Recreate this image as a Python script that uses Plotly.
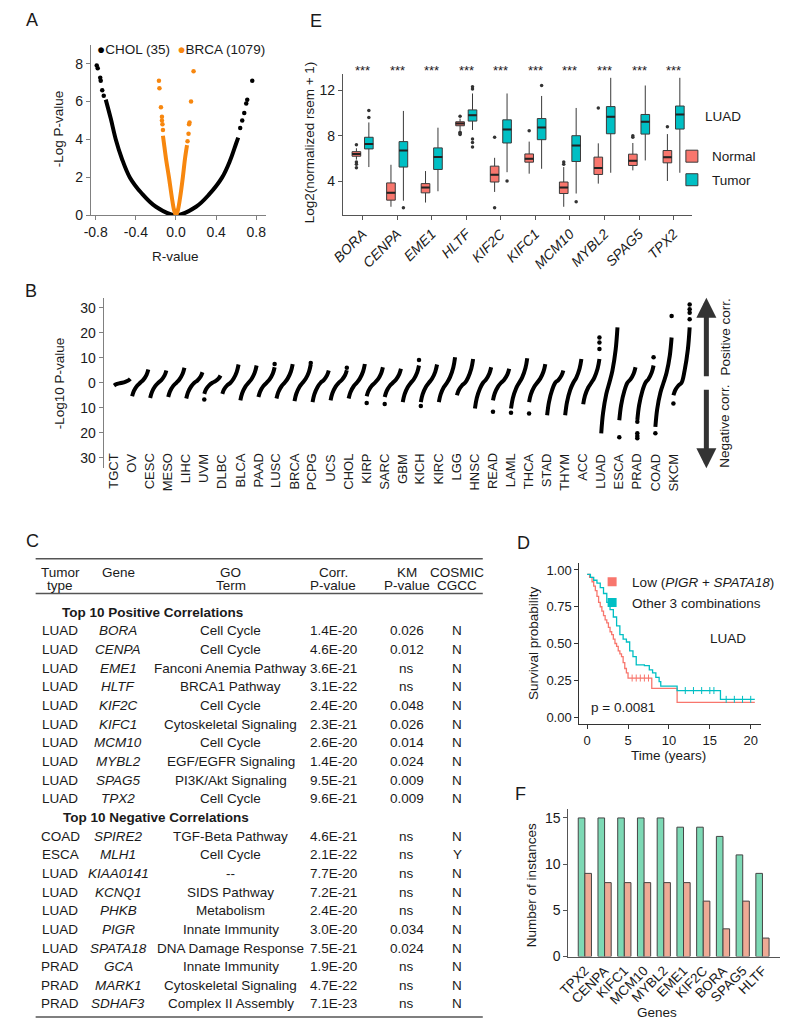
import plotly.graph_objects as go

W, H = 795, 1035
FONT = "Arial, Liberation Sans, sans-serif"
INK = "#1a1a1a"
RED = "#F8766D"
CYAN = "#00BFC4"
ORANGE = "#F7870F"


def dx(p):
    return p / W


def dy(p):
    return 1 - p / H


# ---------------- panel A data ----------------
chol_r = [-0.70, -0.65, -0.60, -0.54, -0.46, -0.34, -0.20, 0.0, 0.20, 0.33, 0.46, 0.54, 0.60, 0.62]
chol_p = [6.1, 5.1, 4.0, 3.0, 2.0, 1.15, 0.45, 0.0, 0.45, 1.1, 2.0, 2.9, 3.8, 4.1]
chol_dot_r = [-0.72, -0.735, -0.75, -0.755, -0.78, -0.79, 0.64, 0.66, 0.68, 0.70, 0.71, 0.76]
chol_dot_p = [6.3, 6.6, 7.1, 7.25, 7.75, 7.9, 4.6, 5.0, 5.4, 5.9, 6.1, 7.1]
brca_r = [-0.13, -0.12, -0.10, -0.07, -0.04, -0.02, 0.0, 0.02, 0.04, 0.068, 0.09, 0.11]
brca_p = [4.2, 3.8, 3.0, 2.0, 0.9, 0.3, 0.0, 0.3, 0.9, 2.0, 3.0, 3.7]
brca_dot_r = [-0.13, -0.135, -0.14, -0.14, -0.15, -0.165, -0.17, 0.115, 0.125, 0.13, 0.135, 0.15, 0.175]
brca_dot_p = [4.5, 4.8, 5.0, 5.2, 5.7, 6.7, 7.1, 3.9, 4.3, 4.8, 4.9, 6.0, 7.6]

# ---------------- panel E data ----------------
e_genes = ["BORA", "CENPA", "EME1", "HLTF", "KIF2C", "KIFC1", "MCM10", "MYBL2", "SPAG5", "TPX2"]
n_q1 = [6.2, 2.35, 2.99, 8.87, 3.94, 5.68, 2.93, 4.6, 5.39, 5.62]
n_med = [6.4, 2.99, 3.45, 9.07, 4.58, 5.97, 3.45, 5.16, 5.8, 6.12]
n_q3 = [6.6, 3.86, 3.8, 9.22, 5.33, 6.4, 3.94, 6.12, 6.38, 6.7]
n_lo = [5.9, 1.77, 2.14, 8.45, 3.07, 4.67, 1.77, 3.8, 4.96, 4.03]
n_hi = [6.9, 5.45, 4.9, 9.5, 6.06, 7.48, 5.25, 7.33, 7.36, 8.14]
n_out = [[7.2, 5.7, 5.5, 5.2], [], [], [9.7, 8.3, 8.2, 8.1], [7.86, 1.68], [8.43], [5.7, 5.5], [10.43], [8.0, 7.86], [8.78]]
t_q1 = [6.84, 5.25, 5.04, 9.28, 7.36, 7.65, 5.74, 8.17, 8.14, 8.58]
t_med = [7.27, 6.7, 6.14, 9.8, 8.55, 8.72, 7.13, 9.65, 9.22, 9.86]
t_q3 = [7.86, 7.48, 6.93, 10.26, 9.39, 9.5, 8.0, 10.55, 9.86, 10.6]
t_lo = [5.25, 2.3, 3.13, 8.5, 4.8, 5.1, 2.93, 4.75, 5.83, 4.75]
t_hi = [9.16, 10.17, 8.7, 11.7, 11.7, 11.48, 10.43, 13.07, 12.4, 13.07]
t_out = [[10.2, 9.6], [1.68], [], [12.3, 12.1, 7.7, 7.4, 7.0], [4.03], [12.4], [2.2], [], [], []]

# ---------------- panel B data ----------------
b_types = ["TGCT", "OV", "CESC", "MESO", "LIHC", "UVM", "DLBC", "BLCA", "PAAD", "LUSC", "BRCA",
           "PCPG", "UCS", "CHOL", "KIRP", "SARC", "GBM", "KICH", "KIRC", "LGG", "HNSC", "READ",
           "LAML", "THCA", "STAD", "THYM", "ACC", "LUAD", "ESCA", "PRAD", "COAD", "SKCM"]
b_low = [-1.1, -5.4, -6.1, -5.7, -6.3, -4.4, -4.4, -7.0, -5.7, -6.3, -7.3, -7.7, -7.0, -6.3, -5.4, -5.7,
         -7.7, -7.7, -7.7, -5.0, -10.3, -7.0, -10.3, -7.7, -13.0, -13.0, -8.6, -20.2, -15.0, -14.9, -17.6, -5.0]
b_high = [1.6, 5.3, 4.9, 6.0, 4.2, 2.9, 7.3, 6.9, 6.2, 7.5, 7.3, 4.9, 5.0, 7.5, 6.2, 5.6,
          6.9, 7.3, 10.2, 9.5, 6.2, 5.6, 9.8, 7.5, 4.9, 9.5, 9.5, 22.1, 6.2, 6.9, 18.1, 22.1]
b_dot_type = ["UVM", "PAAD", "BRCA", "UCS", "KIRP", "SARC", "GBM", "KICH", "READ", "LAML", "THCA",
              "ACC", "ACC", "ACC", "ESCA", "PRAD", "PRAD", "PRAD", "PRAD", "PRAD", "COAD", "COAD",
              "SKCM", "SKCM", "SKCM", "SKCM", "SKCM"]
b_dot_val = [-6.7, 7.5, 7.9, 6.0, -8.1, -8.5, 9.1, -9.3, -11.6, -12.0, -12.3,
             13.5, 16.1, 18.1, -21.8, -20.2, -21.3, -22.2, -15.6, 10.2, -20.2, 26.7,
             -8.3, 25.4, 28.0, 29.4, 31.3]

# ---------------- panel C data ----------------
pos_type = ["LUAD"] * 10
pos_gene = ["BORA", "CENPA", "EME1", "HLTF", "KIF2C", "KIFC1", "MCM10", "MYBL2", "SPAG5", "TPX2"]
pos_go = ["Cell Cycle", "Cell Cycle", "Fanconi Anemia Pathway", "BRCA1 Pathway", "Cell Cycle",
          "Cytoskeletal Signaling", "Cell Cycle", "EGF/EGFR Signaling", "PI3K/Akt Signaling", "Cell Cycle"]
pos_corr = ["1.4E-20", "4.6E-20", "3.6E-21", "3.1E-22", "2.4E-20", "2.3E-21", "2.6E-20", "1.4E-20", "9.5E-21", "9.6E-21"]
pos_km = ["0.026", "0.012", "ns", "ns", "0.048", "0.026", "0.014", "0.024", "0.009", "0.009"]
pos_cosmic = ["N"] * 10
neg_type = ["COAD", "ESCA", "LUAD", "LUAD", "LUAD", "LUAD", "LUAD", "PRAD", "PRAD", "PRAD"]
neg_gene = ["SPIRE2", "MLH1", "KIAA0141", "KCNQ1", "PHKB", "PIGR", "SPATA18", "GCA", "MARK1", "SDHAF3"]
neg_go = ["TGF-Beta Pathway", "Cell Cycle", "--", "SIDS Pathway", "Metabolism", "Innate Immunity",
          "DNA Damage Response", "Innate Immunity", "Cytoskeletal Signaling", "Complex II Assembly"]
neg_corr = ["4.6E-21", "2.1E-22", "7.7E-20", "7.2E-21", "2.4E-20", "3.0E-20", "7.5E-21", "1.9E-20", "4.7E-22", "7.1E-23"]
neg_km = ["ns", "ns", "ns", "ns", "ns", "0.034", "0.024", "ns", "ns", "ns"]
neg_cosmic = ["N", "Y", "N", "N", "N", "N", "N", "N", "N", "N"]

# ---------------- panel D data ----------------
low_t = [0, 0.3, 0.6, 0.8, 1.0, 1.2, 1.4, 1.6, 1.8, 2.0, 2.2, 2.4, 2.6, 2.8, 3.0, 3.2, 3.4, 3.6,
         3.8, 4.0, 4.2, 4.4, 4.6, 4.8, 5.0, 7.9, 11.0, 20.5]
low_s = [0.97, 0.95, 0.92, 0.89, 0.86, 0.82, 0.78, 0.75, 0.72, 0.69, 0.66, 0.64, 0.61, 0.58, 0.56,
         0.53, 0.50, 0.48, 0.45, 0.43, 0.41, 0.37, 0.33, 0.30, 0.265, 0.195, 0.10, 0.10]
oth_t = [0, 0.4, 0.8, 1.2, 1.6, 2.0, 2.4, 2.8, 3.2, 3.6, 4.0, 4.4, 4.8, 5.2, 5.6, 6.0, 7.0, 7.6,
         8.0, 8.4, 8.8, 9.0, 11.0, 16.3, 20.5]
oth_s = [0.97, 0.95, 0.93, 0.91, 0.88, 0.84, 0.78, 0.73, 0.68, 0.62, 0.56, 0.53, 0.51, 0.45, 0.41,
         0.355, 0.35, 0.32, 0.30, 0.27, 0.24, 0.21, 0.18, 0.12, 0.12]
low_cens_t = [5.5, 6.0, 6.5, 7.0, 7.5]
low_cens_s = [0.265, 0.265, 0.265, 0.265, 0.265]
oth_cens_t = [12.0, 13.0, 14.0, 15.0, 15.5, 17.0, 18.0, 19.0, 20.0]
oth_cens_s = [0.18, 0.18, 0.18, 0.18, 0.18, 0.12, 0.12, 0.12, 0.12]

# ---------------- panel F data ----------------
f_genes = ["TPX2", "CENPA", "KIFC1", "MCM10", "MYBL2", "EME1", "KIF2C", "BORA", "SPAG5", "HLTF"]
f_green = [15, 15, 15, 15, 15, 14, 14, 13, 11, 9]
f_pink = [9, 8, 8, 8, 8, 8, 6, 3, 6, 2]

fig = go.Figure()

# A
fig.add_trace(go.Scatter(x=chol_r, y=chol_p, mode="lines", line=dict(color="black", width=4, shape="spline"),
                         xaxis="x", yaxis="y", showlegend=False, cliponaxis=False))
fig.add_trace(go.Scatter(x=chol_dot_r, y=chol_dot_p, mode="markers", marker=dict(color="black", size=4.5),
                         xaxis="x", yaxis="y", showlegend=False))
fig.add_trace(go.Scatter(x=brca_r, y=brca_p, mode="lines", line=dict(color=ORANGE, width=4, shape="spline"),
                         xaxis="x", yaxis="y", showlegend=False, cliponaxis=False))
fig.add_trace(go.Scatter(x=brca_dot_r, y=brca_dot_p, mode="markers", marker=dict(color=ORANGE, size=4.5),
                         xaxis="x", yaxis="y", showlegend=False))

# E
BOX_W = 0.25
for name, off, col, q1, med, q3, lo, hi, outs in [
        ("Normal", -0.18, RED, n_q1, n_med, n_q3, n_lo, n_hi, n_out),
        ("Tumor", 0.18, CYAN, t_q1, t_med, t_q3, t_lo, t_hi, t_out)]:
    pos = [i + off for i in range(len(e_genes))]
    fig.add_trace(go.Box(x=pos, q1=q1, median=med, q3=q3,
                         lowerfence=lo, upperfence=hi, width=BOX_W, fillcolor=col,
                         line=dict(color="#3a3a3a", width=1), whiskerwidth=0, boxpoints=False,
                         name=name, xaxis="x2", yaxis="y2", legend="legend2", legendgroup=name))
    # heavier median bar, as in ggplot
    mx, my = [], []
    for p, m in zip(pos, med):
        mx += [p - BOX_W / 2, p + BOX_W / 2, None]
        my += [m, m, None]
    fig.add_trace(go.Scatter(x=mx, y=my, mode="lines", line=dict(color="#222", width=2),
                             xaxis="x2", yaxis="y2", showlegend=False))
    ox, oy = [], []
    for i, vals in enumerate(outs):
        for v in vals:
            ox.append(i + off)
            oy.append(v)
    fig.add_trace(go.Scatter(x=ox, y=oy, mode="markers", marker=dict(color="#333", size=3.5),
                             xaxis="x2", yaxis="y2", showlegend=False))

# B: each tumour type is a sorted run of genes, drawn as one S-shaped stroke
bx, by = [], []
frac_x = [0.02, 0.12, 0.3, 0.47, 0.64, 0.82, 0.92]
frac_y = [1.0, 0.6, 0.22, 0.0, 0.22, 0.6, 1.0]
for i, (lo, hi) in enumerate(zip(b_low, b_high)):
    for k, (fx, fy) in enumerate(zip(frac_x, frac_y)):
        bx.append(i + fx)
        by.append(fy * (lo if k < 3 else hi))
    bx.append(None)
    by.append(None)
fig.add_trace(go.Scatter(x=bx, y=by, mode="lines", line=dict(color="black", width=4, shape="spline"),
                         xaxis="x3", yaxis="y3", showlegend=False))
fig.add_trace(go.Scatter(x=[b_types.index(t) + (0.02 if v < 0 else 0.92) for t, v in zip(b_dot_type, b_dot_val)],
                         y=b_dot_val, mode="markers", marker=dict(color="black", size=4.5),
                         xaxis="x3", yaxis="y3", showlegend=False))

# D
fig.add_trace(go.Scatter(x=low_t, y=low_s, mode="lines", line=dict(color=RED, width=1.3, shape="hv"),
                         xaxis="x4", yaxis="y4", showlegend=False))
fig.add_trace(go.Scatter(x=oth_t, y=oth_s, mode="lines", line=dict(color=CYAN, width=1.3, shape="hv"),
                         xaxis="x4", yaxis="y4", showlegend=False))
fig.add_trace(go.Scatter(x=low_cens_t, y=low_cens_s, mode="markers",
                         marker=dict(symbol="line-ns-open", size=5, color=RED, line=dict(width=1, color=RED)),
                         xaxis="x4", yaxis="y4", showlegend=False))
fig.add_trace(go.Scatter(x=oth_cens_t, y=oth_cens_s, mode="markers",
                         marker=dict(symbol="line-ns-open", size=5, color=CYAN, line=dict(width=1, color=CYAN)),
                         xaxis="x4", yaxis="y4", showlegend=False))
fig.add_trace(go.Scatter(x=[None], y=[None], mode="markers", marker=dict(symbol="square", size=9, color=RED),
                         name="Low (<i>PIGR</i> + <i>SPATA18</i>)", xaxis="x4", yaxis="y4", legend="legend3",
                         legendgroup="low"))
fig.add_trace(go.Scatter(x=[None], y=[None], mode="markers", marker=dict(symbol="square", size=9, color=CYAN),
                         name="Other 3 combinations", xaxis="x4", yaxis="y4", legend="legend3",
                         legendgroup="oth"))

# F
fig.add_trace(go.Bar(x=list(range(len(f_genes))), y=f_green, marker=dict(color="#7DD9B5", line=dict(color="#444", width=1)),
                     xaxis="x5", yaxis="y5", showlegend=False))
fig.add_trace(go.Bar(x=list(range(len(f_genes))), y=f_pink, marker=dict(color="#EEAA95", line=dict(color="#444", width=1)),
                     xaxis="x5", yaxis="y5", showlegend=False))

ax_common = dict(showgrid=False, zeroline=False, showline=True, ticks="outside", ticklen=4,
                 tickfont=dict(size=14, color=INK))
ax_small = dict(ax_common, tickfont=dict(size=13, color=INK))

fig.update_layout(
    width=W, height=H, margin=dict(l=0, r=0, t=0, b=0),
    paper_bgcolor="white", plot_bgcolor="white",
    font=dict(family=FONT, size=13.5, color=INK),
    barmode="group", bargap=0.33, bargroupgap=0,
    xaxis=dict(domain=[dx(80), dx(258)], range=[-0.849, 0.898], anchor="y",
               tickvals=[-0.8, -0.4, 0, 0.4, 0.8], ticktext=["-0.8", "-0.4", "0.0", "0.4", "0.8"],
               linecolor="#808080", tickcolor="#808080", **ax_common),
    yaxis=dict(domain=[dy(217), dy(45)], range=[0, 9], anchor="x", tickvals=[0, 2, 4, 6, 8],
               linecolor="#808080", tickcolor="#808080", **ax_common),
    xaxis2=dict(domain=[dx(336), dx(690)], range=[-0.57, 9.52], anchor="y2",
                tickvals=list(range(len(e_genes))), ticktext=["<i>%s</i>" % g for g in e_genes],
                tickangle=-45, linecolor="#555", tickcolor="#555", **ax_common),
    yaxis2=dict(domain=[dy(217), dy(75)], range=[1.02, 13.37], anchor="x2", tickvals=[4, 8, 12],
                linecolor="#555", tickcolor="#555", **ax_common),
    xaxis3=dict(domain=[dx(93), dx(695)], range=[-0.56, 32.3], anchor="y3", visible=False),
    yaxis3=dict(domain=[dy(472), dy(300)], range=[-34.2, 34], anchor="x3",
                tickvals=[30, 20, 10, 0, -10, -20, -30], ticktext=["30", "20", "10", "0", "10", "20", "30"],
                linecolor="#808080", tickcolor="#808080", **ax_common),
    xaxis4=dict(domain=[dx(576), dx(760)], range=[-0.96, 21.2], anchor="y4", tickvals=[0, 5, 10, 15, 20],
                linecolor="#333", tickcolor="#333", **ax_small),
    yaxis4=dict(domain=[dy(730), dy(567)], range=[-0.05, 1.05], anchor="x4",
                tickvals=[0, 0.25, 0.5, 0.75, 1.0], tickformat=".2f",
                linecolor="#333", tickcolor="#333", **ax_small),
    xaxis5=dict(domain=[dx(565), dx(780)], range=[-0.83, 9.9], anchor="y5",
                tickvals=list(range(len(f_genes))), ticktext=f_genes, tickangle=-45,
                showgrid=False, zeroline=False, showline=True, linecolor="#555", ticks="",
                tickfont=dict(size=13.5, color=INK)),
    yaxis5=dict(domain=[dy(964), dy(815)], range=[0, 16], anchor="x5", tickvals=[0, 5, 10, 15],
                linecolor="#555", tickcolor="#555", **ax_common),
    legend2=dict(x=dx(670), y=dy(142), xanchor="left", yanchor="top", bgcolor="rgba(0,0,0,0)",
                 font=dict(size=13.5), traceorder="grouped", tracegroupgap=3),
    legend3=dict(x=dx(589), y=dy(571), xanchor="left", yanchor="top", bgcolor="rgba(0,0,0,0)",
                 font=dict(size=13.5), traceorder="grouped", tracegroupgap=0),
)

ann = []


def text(t, x, y, size=13.5, xanchor="center", yanchor="middle", angle=0, bold=False):
    ann.append(dict(text=("<b>%s</b>" % t) if bold else t, x=dx(x), y=dy(y), xref="paper", yref="paper",
                    showarrow=False, font=dict(size=size, color=INK), xanchor=xanchor, yanchor=yanchor,
                    textangle=angle))


# panel letters
for letter, x, y in [("A", 20, 20), ("E", 309, 21), ("B", 19, 293), ("C", 21, 545), ("D", 519, 547), ("F", 516, 800)]:
    text(letter, x, y, size=18)

# axis titles
text("R-value", 166, 258)
text("-Log P-value", 48, 130, angle=-90)
text("Log2(normalized rsem + 1)", 302, 143, angle=-90)
text("-Log10 P-value", 48, 386, angle=-90)
text("Survival probability", 530, 648, angle=-90)
text("Time (years)", 667, 761)
text("Number of instances", 527, 892, angle=-90)
text("Genes", 655, 1020)

# A legend
text("<span style='color:black'>●</span>CHOL (35)  <span style='color:%s'>●</span>BRCA (1079)" % ORANGE,
     84, 50, xanchor="left")

# E annotations
for i in range(len(e_genes)):
    ann.append(dict(text="***", x=i, y=dy(71), xref="x2", yref="paper", showarrow=False,
                    font=dict(size=13, color=INK), yanchor="middle"))
text("LUAD", 722, 117)

# B tumor labels
for i, t in enumerate(b_types):
    ann.append(dict(text=t, x=i, y=dy(455), xref="x3", yref="paper", showarrow=False, textangle=-90,
                    xanchor="center", yanchor="top", font=dict(size=13, color=INK)))
text("Positive corr.", 724, 340, angle=-90)
text("Negative corr.", 724, 430, angle=-90)
ann.append(dict(x=dx(705), y=dy(300), xref="paper", yref="paper", ax=0, ay=80, showarrow=True,
                arrowhead=2, arrowsize=0.8, arrowwidth=5, arrowcolor="#333", text=""))
ann.append(dict(x=dx(705), y=dy(472), xref="paper", yref="paper", ax=0, ay=-80, showarrow=True,
                arrowhead=2, arrowsize=0.8, arrowwidth=5, arrowcolor="#333", text=""))

# D annotations
text("LUAD", 727, 643)
text("p = 0.0081", 586, 713, xanchor="left")

# C table
col_x = [49, 108, 222, 326, 401, 452]
head1 = ["Tumor", "Gene", "GO", "Corr.", "KM", "COSMIC"]
head2 = ["type", "", "Term", "P-value", "P-value", "CGCC"]
for cx, h1, h2 in zip(col_x, head1, head2):
    text(h1, cx, 577)
    if h2:
        text(h2, cx, 590)
row_step = 18.8
y0 = 617
text("Top 10 Positive Correlations", 49, y0, xanchor="left", bold=True)
text("Top 10 Negative Correlations", 50, y0 + 11 * row_step, xanchor="left", bold=True)
for block, start in [((pos_type, pos_gene, pos_go, pos_corr, pos_km, pos_cosmic), 1),
                     ((neg_type, neg_gene, neg_go, neg_corr, neg_km, neg_cosmic), 12)]:
    for r in range(10):
        yy = y0 + (start + r) * row_step
        for c, cx in enumerate(col_x):
            val = block[c][r]
            if c == 1:
                val = "<i>%s</i>" % val
            text(val, cx, yy)

shapes = []
for yy in [563, 598, 1025]:
    shapes.append(dict(type="line", xref="paper", yref="paper", x0=dx(24), x1=dx(478), y0=dy(yy), y1=dy(yy),
                       line=dict(color="#555", width=1.5)))

fig.update_layout(annotations=ann, shapes=shapes)
# drop the browser's default body margin so the figure sits at the page corner
fig.write_html("out.html", config={"displayModeBar": False},
               post_script="document.body.style.margin='0';")
